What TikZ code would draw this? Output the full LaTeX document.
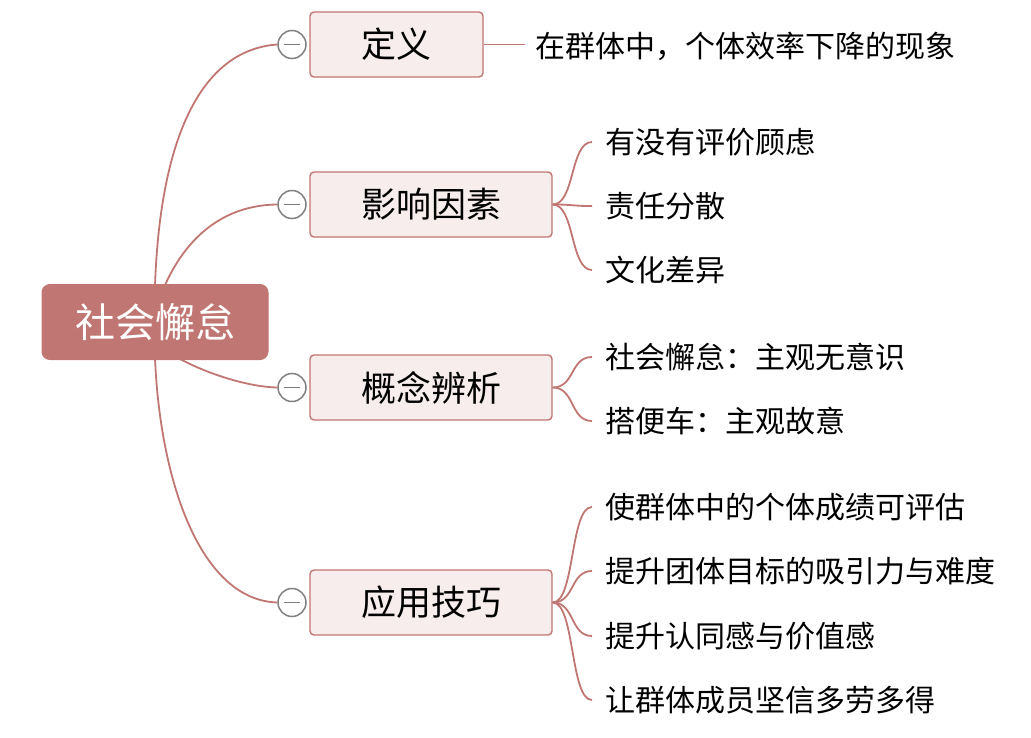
\documentclass[tikz,border=0pt]{standalone}
\usepackage{fontspec}
\setmainfont{Noto Sans CJK SC}
\begin{document}
\begin{tikzpicture}[x=1pt,y=-1pt]
\definecolor{main}{HTML}{C07672}
\definecolor{lite}{HTML}{F8EDED}
\tikzset{
 rootbox/.style={draw=main,fill=main,rounded corners=8pt,text=white,font=\fontsize{40}{46}\selectfont,minimum width=226pt,minimum height=75pt,line width=1pt},
 topic/.style={draw=main,fill=lite,rounded corners=4pt,font=\fontsize{35}{40}\selectfont,minimum height=65pt,line width=1.4pt},
 leaf/.style={anchor=west,font=\fontsize{30}{36}\selectfont,inner sep=0pt},
 conn/.style={draw=main,line width=1.8pt},
 fold/.style={circle,draw=gray,fill=white,line width=1.5pt,minimum size=28pt,inner sep=0pt}
}
\useasboundingbox (0,0) rectangle (1031,737);
\node[rootbox] (root) at (155,322) {社会懈怠};
\node[topic,minimum width=173pt] (t1) at (396.5,44.5) {定义};
\node[topic,minimum width=242pt] (t2) at (431,204.5) {影响因素};
\node[topic,minimum width=242pt] (t3) at (431,387.5) {概念辨析};
\node[topic,minimum width=242pt] (t4) at (431,602.5) {应用技巧};
\foreach \i/\y in {1/44.5,2/204.5,3/387.5,4/602.5}{
 \node[fold] (c\i) at (292,\y) {};
 \draw[gray,line width=1.5pt] (c\i.center)+(-8,0) -- +(8,0);
}
\draw[conn] (root.north) ++(0,2) .. controls (160,140) and (200,50) .. (c1.west);
\draw[conn] (165,285) .. controls (190,230) and (230,205) .. (c2.west);
\draw[conn] (180,359) .. controls (210,375) and (250,387) .. (c3.west);
\draw[conn] (root.south) ++(0,-2) .. controls (160,480) and (200,600) .. (c4.west);
\node[leaf] (l1) at (535,46) {在群体中，个体效率下降的现象};
\draw[conn] (t1.east) -- (525,44.5);
\foreach \n/\y/\t in {a/142/有没有评价顾虑,b/206/责任分散,c/270/文化差异}{
 \node[leaf] (\n) at (605,\y) {\t};
 \draw[conn] (t2.east) .. controls (575,204.5) and (570,\y) .. (592,\y);
}
\foreach \n/\y/\t in {d/357/社会懈怠：主观无意识,e/421/搭便车：主观故意}{
 \node[leaf] (\n) at (605,\y) {\t};
 \draw[conn] (t3.east) .. controls (575,387.5) and (570,\y) .. (592,\y);
}
\foreach \n/\y/\t in {f/507/使群体中的个体成绩可评估,g/571/提升团体目标的吸引力与难度,h/636/提升认同感与价值感,k/700/让群体成员坚信多劳多得}{
 \node[leaf] (\n) at (605,\y) {\t};
 \draw[conn] (t4.east) .. controls (575,602.5) and (570,\y) .. (592,\y);
}
\end{tikzpicture}
\end{document}
